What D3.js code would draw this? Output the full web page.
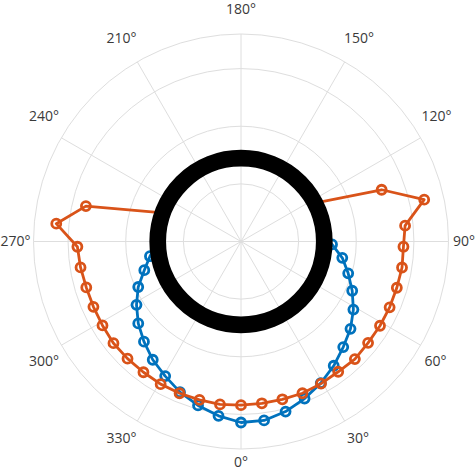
<!DOCTYPE html>
<html>
<head>
<meta charset="utf-8">
<script src="https://cdn.jsdelivr.net/npm/d3@7"></script>
<style>
  html, body { margin: 0; padding: 0; background: #ffffff; }
  svg { display: block; }
</style>
</head>
<body>
<script>
// ---- data (angles in degrees, 0° at bottom, counter-clockwise) ----
const thetaTicks  = [0, 30, 60, 90, 120, 150, 180, 210, 240, 270, 300, 330];
const thetaLabels = ["0°", "30°", "60°", "90°", "120°", "150°", "180°", "210°", "240°", "270°", "300°", "330°"];
const rTicks = [10, 20, 30];
const rMax = 36;

const blueTheta = [-88.16, -80.82, -73.47, -66.12, -58.78, -51.43, -44.08, -36.73, -29.39, -22.04, -14.69, -7.35,
                   0, 7.35, 14.69, 22.04, 29.39, 36.73, 44.08, 51.43, 58.78, 66.12, 73.47, 80.82, 88.16, 95.51];
const blueR     = [14.6, 16.0, 17.5, 19.5, 21.2, 22.8, 24.2, 25.6, 26.8, 28.2, 29.4, 30.5,
                   31.4, 31.3, 30.5, 29.4, 28.2, 26.9, 25.5, 24.3, 22.8, 21.1, 19.4, 17.8, 15.8, 14.4];

const orangeTheta = [-110.20, -102.86, -95.51, -88.16, -80.82, -73.47, -66.12, -58.78, -51.43, -44.08, -36.73, -29.39,
                     -22.04, -14.69, -7.35, 0, 7.35, 14.69, 22.04, 29.39, 36.73, 44.08, 51.43, 58.78, 66.12,
                     73.47, 80.82, 88.16, 95.51, 102.86, 110.20, 117.55];
const orangeR     = [14.4, 27.6, 32.2, 28.4, 28.2, 28.0, 28.0, 28.1, 28.3, 28.3, 28.3, 28.4,
                     28.4, 28.4, 28.5, 28.4, 28.3, 28.3, 28.4, 28.3, 28.2, 28.4, 28.2, 28.2, 28.2,
                     28.2, 28.3, 28.2, 28.6, 32.6, 26.0, 14.4];

const ringR = 14.45;

// ---- layout ----
const W = 475, H = 472;
const cx = 241, cy = 241.5;
const Rpx = 207.5;

const svg = d3.select("body").append("svg").attr("width", W).attr("height", H);
const g = svg.append("g").attr("transform", `translate(${cx},${cy})`);

const rScale = d3.scaleLinear().domain([0, rMax]).range([0, Rpx]);
// 0° at bottom, increasing counter-clockwise on screen
const aScale = d3.scaleLinear().domain([0, 360]).range([Math.PI, -Math.PI]);

const gridColor = "#dedede";

// rings
g.selectAll("circle.ring").data(rTicks.concat([rMax])).join("circle")
  .attr("class", "ring")
  .attr("r", d => rScale(d))
  .attr("fill", "none")
  .attr("stroke", gridColor)
  .attr("stroke-width", 1);

// spokes
g.selectAll("line.spoke").data(thetaTicks).join("line")
  .attr("class", "spoke")
  .attr("x1", 0).attr("y1", 0)
  .attr("x2", d => d3.pointRadial(aScale(d), rScale(rMax))[0])
  .attr("y2", d => d3.pointRadial(aScale(d), rScale(rMax))[1])
  .attr("stroke", gridColor)
  .attr("stroke-width", 1);

// theta labels
const labelR = rScale(rMax) + 4.5;
g.selectAll("text.tl").data(thetaTicks).join("text")
  .attr("class", "tl")
  .attr("font-family", "'Open Sans', 'Liberation Sans', sans-serif")
  .attr("font-size", 14)
  .attr("fill", "#3a3a3a")
  .attr("dominant-baseline", "central")
  .text((d, i) => thetaLabels[i])
  .each(function(d) {
    const p = d3.pointRadial(aScale(d), labelR);
    const s = p[0], c = p[1];
    const anchor = s > 1 ? "start" : (s < -1 ? "end" : "middle");
    let dy = -1.5;
    if (c > 1) dy = Math.abs(s) < 1 ? 8 : 12.5;
    else if (c < -1) dy = Math.abs(s) < 1 ? -21 : -20;
    let dx = 0;
    if (c < -1 && s > 1) dx = -3;
    if (s < -1) dx = 1.5;
    d3.select(this).attr("x", p[0] + dx).attr("y", p[1] + dy).attr("text-anchor", anchor);
  });

const line = d3.lineRadial()
  .angle(d => aScale(d.t))
  .radius(d => rScale(d.r));

function drawSeries(thetas, rs, color) {
  const pts = thetas.map((t, i) => ({ t: t, r: rs[i] }));
  g.append("path").datum(pts)
    .attr("d", line)
    .attr("fill", "none")
    .attr("stroke", color)
    .attr("stroke-width", 2.8)
    .attr("stroke-linejoin", "round");
  g.append("g").selectAll("circle").data(pts).join("circle")
    .attr("cx", d => d3.pointRadial(aScale(d.t), rScale(d.r))[0])
    .attr("cy", d => d3.pointRadial(aScale(d.t), rScale(d.r))[1])
    .attr("r", 4.5)
    .attr("fill", "none")
    .attr("stroke", color)
    .attr("stroke-width", 2.8);
}

drawSeries(blueTheta, blueR, "#0072BD");
drawSeries(orangeTheta, orangeR, "#D95319");

// thick black circle
g.append("circle")
  .attr("r", rScale(ringR))
  .attr("fill", "none")
  .attr("stroke", "#000000")
  .attr("stroke-width", 16.7);
</script>
</body>
</html>
